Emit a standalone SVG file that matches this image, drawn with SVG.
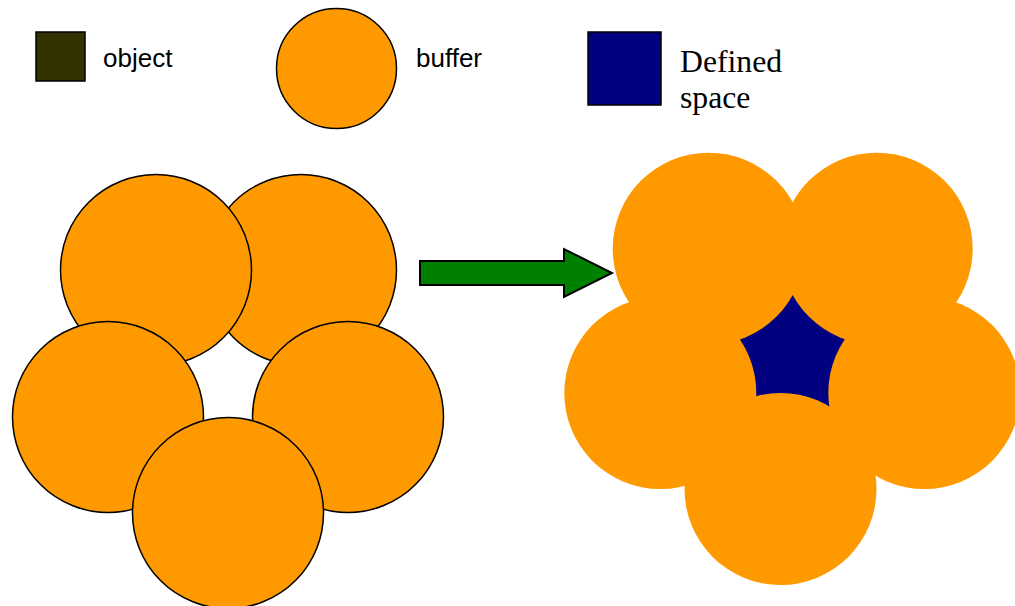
<svg xmlns="http://www.w3.org/2000/svg" width="1015" height="606" viewBox="0 0 1015 606">
<style>
.buf{fill:#ff9900;stroke:#000;stroke-width:1.5}
.bufn{fill:#ff9900;stroke:none}
.sans{font-family:"Liberation Sans",Arial,sans-serif;font-size:26px;fill:#000}
.serif{font-family:"Liberation Serif","Times New Roman",serif;font-size:31.7px;fill:#000}
</style>
<rect width="1015" height="606" fill="#fff"/>
<g id="legend-object">
<rect x="36" y="32" width="49" height="49" fill="#333300" stroke="#000" stroke-width="1.5"/>
<text class="sans" x="103" y="67">object</text>
</g>
<g id="legend-buffer">
<circle class="buf" cx="336.5" cy="68.5" r="60"/>
<text class="sans" x="416" y="67">buffer</text>
</g>
<g id="legend-space">
<rect x="588" y="32" width="73" height="73" fill="#000080" stroke="#000" stroke-width="1.5"/>
<text class="serif" x="680" y="72">Defined</text>
<text class="serif" x="680" y="108">space</text>
</g>
<g id="before">
<circle class="buf" cx="301" cy="270" r="95.5"/>
<circle class="buf" cx="156" cy="270" r="95.5"/>
<circle class="buf" cx="108" cy="417" r="95.5"/>
<circle class="buf" cx="348" cy="417" r="95.5"/>
<circle class="buf" cx="228" cy="513" r="95.5"/>
</g>
<g id="after">
<polygon points="792.7,291 737,339 754,399 832,410 848,339" fill="#000080"/>
<circle class="bufn" cx="708.7" cy="248.7" r="96"/>
<circle class="bufn" cx="876.7" cy="248.7" r="96"/>
<circle class="bufn" cx="660.3" cy="393" r="96"/>
<circle class="bufn" cx="924.3" cy="393" r="96"/>
<circle class="bufn" cx="780.5" cy="489" r="96"/>
</g>
<g id="connectors">
<polygon points="420,261 564,261 564,249 612,273 564,297 564,285 420,285" fill="#008000" stroke="#000" stroke-width="2" stroke-linejoin="miter"/>
</g>
</svg>
